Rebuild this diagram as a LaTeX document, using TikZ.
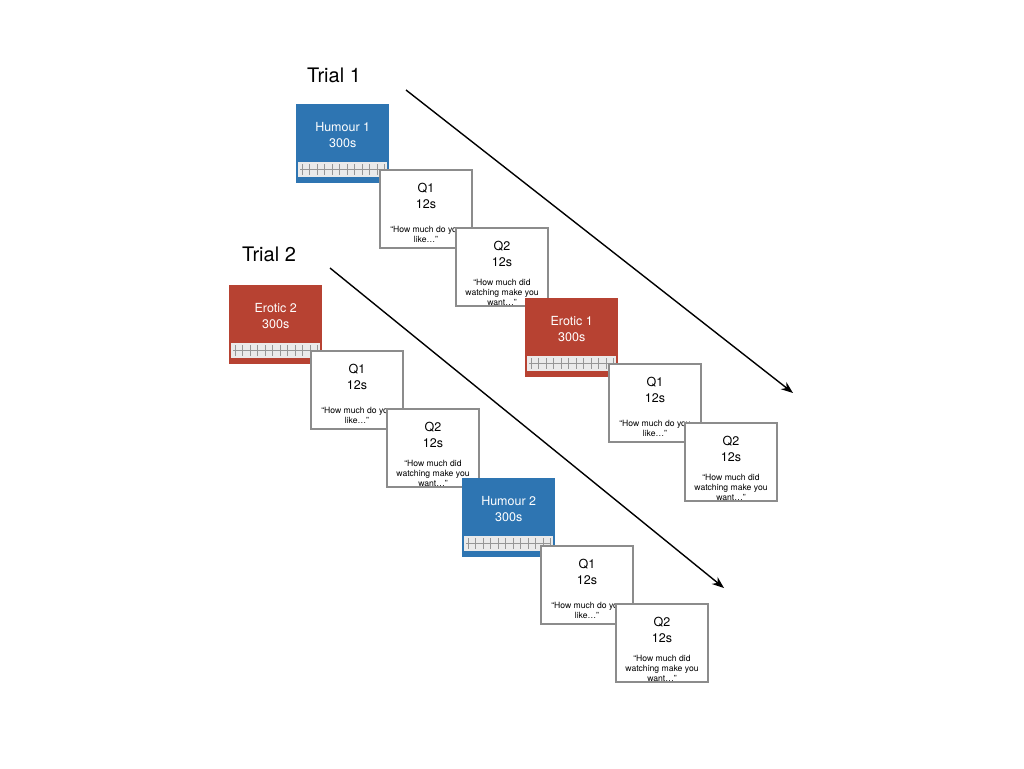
\documentclass[tikz,border=0pt]{standalone}
\usepackage{fontspec}
\setmainfont{TeX Gyre Heros}
\usetikzlibrary{calc,arrows.meta}
\definecolor{hblue}{RGB}{46,117,178}
\definecolor{ered}{RGB}{183,66,50}
\definecolor{qgray}{RGB}{140,140,140}
\definecolor{stripgray}{RGB}{234,234,234}
\definecolor{tickgray}{RGB}{150,150,150}
\tikzset{
 qbox/.style={draw=qgray, line width=2pt, fill=white, minimum width=92pt, minimum height=78pt, inner sep=0pt, anchor=north west},
 cbox/.style={minimum width=93pt, minimum height=79pt, inner sep=0pt, anchor=north west},
 bigtxt/.style={font=\fontsize{12.5}{15}\selectfont, inner sep=0pt},
 smalltxt/.style={font=\fontsize{8.6}{10}\selectfont, inner sep=0pt, align=center},
 trialtxt/.style={font=\fontsize{20}{24}\selectfont, inner sep=0pt},
 flow/.style={line width=1.4pt, -{Stealth[length=12pt,width=9pt]}},
 tickline/.style={draw=tickgray, line width=0.5pt}
}
\newcommand{\clipbox}[5]{%
  \node[cbox, fill=#4] (#1) at (#2,#3) {};
  \fill[stripgray] ($(#1.north west)+(2,58)$) rectangle ($(#1.north west)+(91,73)$);
  \draw[tickline] ($(#1.north west)+(4,65.5)$) -- ($(#1.north west)+(89,65.5)$);
  \foreach \k in {0,...,11} {\draw[tickline] ($(#1.north west)+(6+\k*7.5,60)$) -- ($(#1.north west)+(6+\k*7.5,71)$);}
  \node[bigtxt, text=white] (#1-a) at ($(#1.north)+(0,23.5)$) {#5};
  \node[bigtxt, text=white] (#1-b) at ($(#1.north)+(0,39.5)$) {300s};
}
\newcommand{\qnbox}[5]{%
  \node[qbox] (#1) at (#2,#3) {};
  \node[bigtxt] (#1-a) at ($(#1.north)+(0,19)$) {#4};
  \node[bigtxt] (#1-b) at ($(#1.north)+(0,35)$) {12s};
  \node[smalltxt] (#1-c) at ($(#1.north)+(0,65)$) {#5};
}
\begin{document}
\begin{tikzpicture}[x=1pt,y=-1pt]
\useasboundingbox (0,0) rectangle (1024,768);
\fill[white] (0,0) rectangle (1024,768);
% Trial 1
\node[trialtxt] (t1) at (334,75) {Trial 1};
\coordinate (a1s) at (406,90);
\coordinate (a1e) at (793,393);
\draw[flow] (a1s) -- (a1e);
\clipbox{h1}{296}{104}{hblue}{Humour 1}
\qnbox{t1q1}{379}{169}{Q1}{“How much do you\\like…”}
\qnbox{t1q2}{455}{227}{Q2}{“How much did\\watching make you\\want…”}
\clipbox{e1}{525}{298}{ered}{Erotic 1}
\qnbox{t1q3}{608}{363}{Q1}{“How much do you\\like…”}
\qnbox{t1q4}{684}{422}{Q2}{“How much did\\watching make you\\want…”}
% Trial 2
\node[trialtxt] (t2) at (269,254) {Trial 2};
\coordinate (a2s) at (330,268);
\coordinate (a2e) at (724,588);
\draw[flow] (a2s) -- (a2e);
\clipbox{e2}{229}{285}{ered}{Erotic 2}
\qnbox{t2q1}{310}{350}{Q1}{“How much do you\\like…”}
\qnbox{t2q2}{386}{408}{Q2}{“How much did\\watching make you\\want…”}
\clipbox{h2}{462}{478}{hblue}{Humour 2}
\qnbox{t2q3}{540}{545}{Q1}{“How much do you\\like…”}
\qnbox{t2q4}{615}{603}{Q2}{“How much did\\watching make you\\want…”}
\end{tikzpicture}
\end{document}
